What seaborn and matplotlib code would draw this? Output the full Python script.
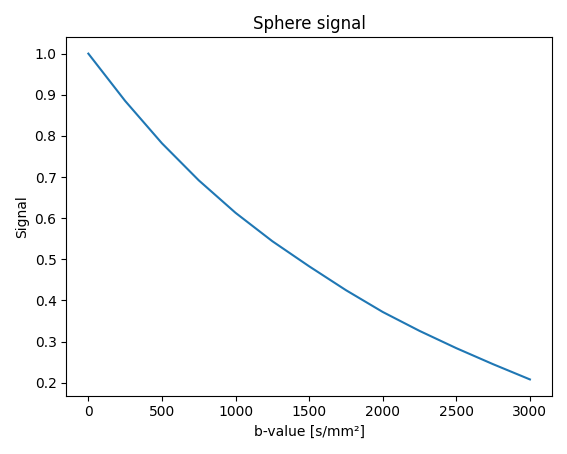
import matplotlib
matplotlib.use('Agg')
import matplotlib.pyplot as plt
import seaborn as sns

# values
b_values = [0, 250, 500, 750, 1000, 1250, 1500, 1750, 2000, 2250, 2500, 2750, 3000]
signal = [1.0, 0.885, 0.782, 0.692, 0.613, 0.544, 0.483, 0.425, 0.372, 0.326, 0.284, 0.245, 0.208]

fig, ax = plt.subplots(figsize=(5.67, 4.54), dpi=100)
sns.lineplot(x=b_values, y=signal, ax=ax, color='#1f77b4')
ax.set_title('Sphere signal')
ax.set_xlabel('b-value [s/mm²]')
ax.set_ylabel('Signal')
plt.tight_layout()
plt.savefig('out.png', dpi=100)
